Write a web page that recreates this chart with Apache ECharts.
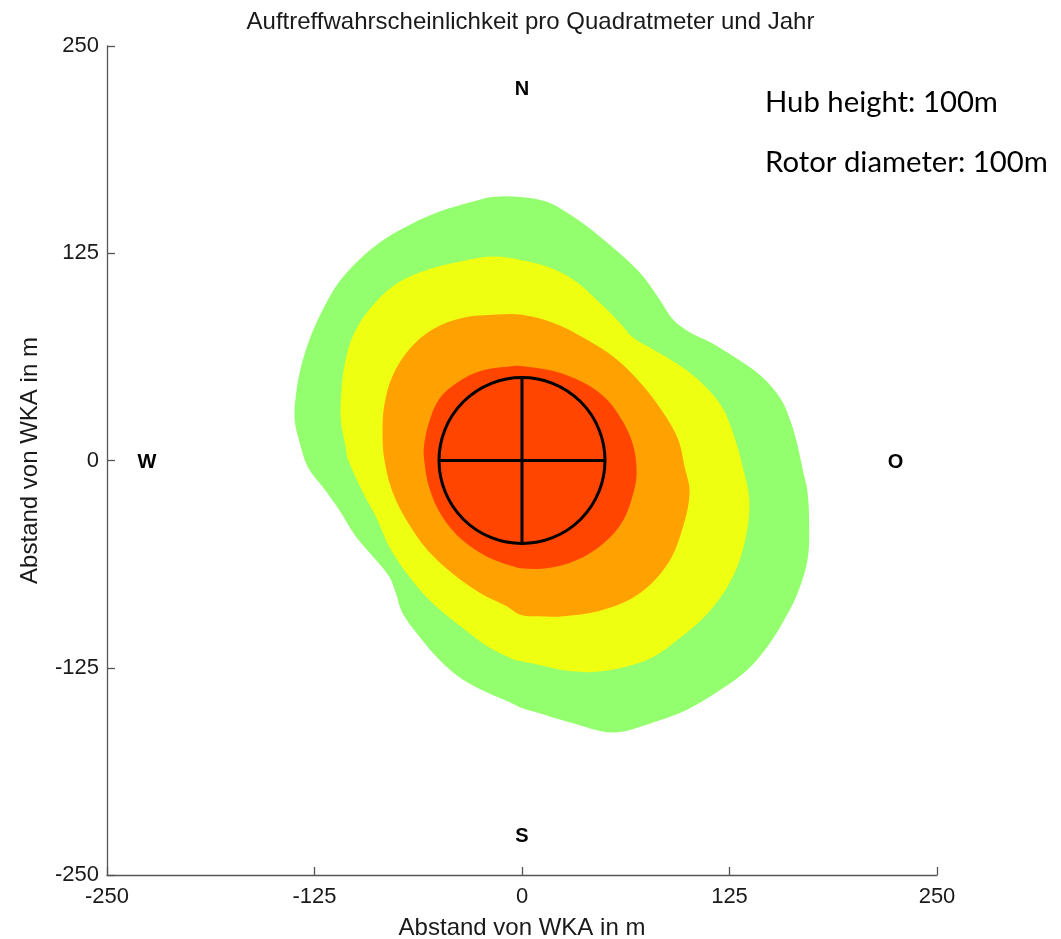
<!DOCTYPE html>
<html>
<head>
<meta charset="utf-8">
<title>Auftreffwahrscheinlichkeit</title>
<script src="https://cdn.jsdelivr.net/npm/echarts@6/dist/echarts.min.js"></script>
<style>
  html, body { margin: 0; padding: 0; background: #fff; }
  #chart { width: 1061px; height: 939px; }
</style>
</head>
<body>
<div id="chart"></div>
<script>
// Axis ticks (metres from the turbine)
const axisTicks = [-250, -125, 0, 125, 250];

// Contour bands of the strike probability, outermost first: [x, y] in metres
const greenBand = [
  [-1, 159], [15, 156], [31, 147], [47, 135], [61, 123], [73, 111], [83, 97], [91, 85],
  [100, 78], [114, 71], [127, 63], [144, 51], [156, 37], [162, 23], [166, 9], [169, -5],
  [172, -19], [173, -40], [172, -60], [166, -80], [158, -96], [148, -112], [136, -126],
  [120, -138], [100, -150], [79, -158], [55, -164], [29, -158], [9, -152], [-1, -149],
  [-7, -146], [-21, -140], [-36, -132], [-50, -120], [-62, -106], [-72, -92], [-76, -80],
  [-80, -70], [-88, -60], [-100, -46], [-110, -30], [-120, -16], [-129, -4], [-134, 11],
  [-137, 25], [-136, 41], [-133, 57], [-128, 73], [-120, 91], [-110, 108], [-96, 123],
  [-82, 134], [-66, 143], [-50, 150], [-30, 156], [-18, 159]
];
const yellowBand = [
  [-1, 121], [15, 117], [31, 109], [47, 95], [59, 83], [67, 74], [79, 67], [94, 58],
  [108, 47], [120, 33], [127, 17], [133, -4], [137, -25], [134, -50], [126, -72],
  [112, -92], [94, -108], [76, -120], [49, -127], [29, -127], [9, -123], [-1, -121],
  [-5, -120], [-21, -112], [-37, -100], [-54, -86], [-68, -70], [-80, -52], [-88, -34],
  [-96, -19], [-105, 1], [-106, 7], [-109, 23], [-109, 39], [-107, 57], [-102, 75],
  [-92, 91], [-78, 105], [-60, 114], [-37, 120], [-18, 123]
];
const orangeBand = [
  [-1, 88], [19, 83], [39, 73], [57, 61], [73, 45], [85, 29], [94, 13], [98, -4],
  [101, -19], [97, -40], [88, -62], [71, -80], [49, -90], [25, -94], [9, -94], [-1, -93],
  [-9, -88], [-25, -80], [-42, -68], [-57, -54], [-69, -37], [-78, -19], [-83, 1],
  [-84, 17], [-83, 33], [-78, 51], [-68, 67], [-54, 79], [-36, 86], [-15, 88]
];
const redBand = [
  [-1, 57], [19, 54], [37, 47], [51, 37], [61, 23], [67, 9], [69, -5], [68, -16],
  [61, -36], [49, -50], [33, -60], [15, -65], [-1, -65], [-5, -64], [-21, -58],
  [-36, -48], [-48, -34], [-56, -16], [-59, 1], [-59, 9], [-56, 23], [-50, 37],
  [-39, 47], [-25, 54], [-5, 57]
];
const bandPolygons = [greenBand, yellowBand, orangeBand, redBand];
const bandColors = ['#94ff6e', '#eeff12', '#ffa100', '#ff4500'];

// Rotor disc: hub at the origin, rotor diameter 100 m
const rotorCenter = [0, 0];
const rotorRadius = 50;

// Compass directions: [label, x, y]
const compassLabels = [['N', 0, 223.5], ['W', -226, -1], ['O', 225, -1], ['S', 0, -227]];

// Turbine annotation lines
const infoLines = ['Hub height: 100m', 'Rotor diameter: 100m'];

const chart = echarts.init(document.getElementById('chart'), null, { renderer: 'canvas' });

const axisCommon = {
  type: 'value',
  min: -250,
  max: 250,
  interval: 125,
  nameLocation: 'middle',
  nameTextStyle: { fontFamily: 'Liberation Sans', fontSize: 24, color: '#1a1a1a' },
  axisLine: { show: true, onZero: false, lineStyle: { color: '#555', width: 1.3 } },
  axisTick: { show: true, inside: true, length: 8, lineStyle: { color: '#555', width: 1.3 } },
  axisLabel: {
    fontFamily: 'Liberation Sans', fontSize: 22, color: '#1a1a1a',
    formatter: v => (axisTicks.includes(v) ? String(v) : '')
  },
  splitLine: { show: false }
};

chart.setOption({
  animation: false,
  backgroundColor: '#ffffff',
  title: {
    text: 'Auftreffwahrscheinlichkeit pro Quadratmeter und Jahr',
    left: 'center',
    top: 5,
    textStyle: { fontFamily: 'Liberation Sans', fontSize: 24, fontWeight: 'normal', color: '#1a1a1a' }
  },
  grid: { left: 107, right: 124, top: 46, bottom: 64, containLabel: false, outerBoundsMode: 'none' },
  xAxis: Object.assign({}, axisCommon, {
    name: 'Abstand von WKA in m',
    nameGap: 41,
    axisLabel: Object.assign({}, axisCommon.axisLabel, { margin: 11 })
  }),
  yAxis: Object.assign({}, axisCommon, {
    name: 'Abstand von WKA in m',
    nameGap: 65,
    axisLabel: Object.assign({}, axisCommon.axisLabel, { margin: 8 })
  }),
  graphic: infoLines.map((t, i) => ({
    type: 'text',
    left: 765,
    top: 88 + i * 60,
    style: { text: t, font: '29.3px Lato', fill: '#000' }
  })),
  series: [
    {
      // filled probability bands
      type: 'custom',
      coordinateSystem: 'cartesian2d',
      silent: true,
      clip: true,
      data: bandPolygons.map((_, i) => [i]),
      encode: { x: -1, y: -1 },
      renderItem: (params, api) => {
        const idx = params.dataIndex;
        return {
          type: 'polygon',
          shape: { points: bandPolygons[idx].map(p => api.coord(p)), smooth: 0.35 },
          style: { fill: bandColors[idx] }
        };
      }
    },
    {
      // rotor disc outline and cross
      type: 'custom',
      coordinateSystem: 'cartesian2d',
      silent: true,
      data: [[0]],
      encode: { x: -1, y: -1 },
      renderItem: (params, api) => {
        const c = api.coord(rotorCenter);
        const r = api.size([rotorRadius, 0])[0];
        const left = api.coord([rotorCenter[0] - rotorRadius, rotorCenter[1]]);
        const right = api.coord([rotorCenter[0] + rotorRadius, rotorCenter[1]]);
        const top = api.coord([rotorCenter[0], rotorCenter[1] + rotorRadius]);
        const bottom = api.coord([rotorCenter[0], rotorCenter[1] - rotorRadius]);
        const stroke = { stroke: '#000', lineWidth: 3, fill: null };
        return {
          type: 'group',
          children: [
            { type: 'line', shape: { x1: left[0], y1: left[1], x2: right[0], y2: right[1] }, style: stroke },
            { type: 'line', shape: { x1: top[0], y1: top[1], x2: bottom[0], y2: bottom[1] }, style: stroke },
            { type: 'circle', shape: { cx: c[0], cy: c[1], r: r }, style: { stroke: '#000', lineWidth: 3, fill: 'none' } }
          ]
        };
      }
    },
    {
      // compass letters
      type: 'custom',
      coordinateSystem: 'cartesian2d',
      silent: true,
      data: compassLabels.map(d => [d[1], d[2]]),
      renderItem: (params, api) => {
        const p = api.coord([api.value(0), api.value(1)]);
        return {
          type: 'text',
          x: p[0],
          y: p[1],
          style: {
            text: compassLabels[params.dataIndex][0],
            font: 'bold 20px "Liberation Sans"',
            fill: '#000',
            align: 'center',
            verticalAlign: 'middle'
          }
        };
      }
    }
  ]
});
</script>
</body>
</html>
